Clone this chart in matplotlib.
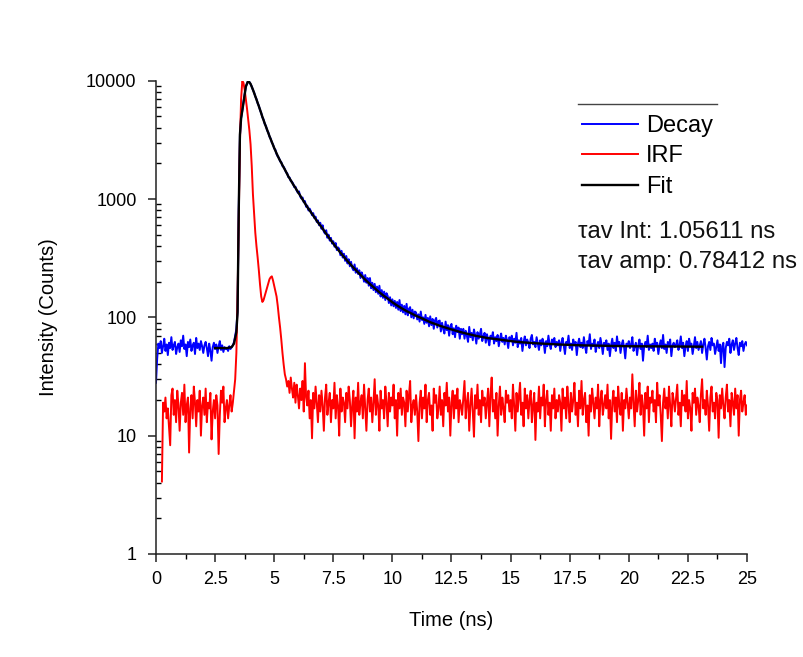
import numpy as np
import matplotlib
matplotlib.use("Agg")
import matplotlib.pyplot as plt
from matplotlib.lines import Line2D
from matplotlib.ticker import FixedLocator, NullFormatter

plt.rcParams["font.family"] = ["Liberation Sans", "DejaVu Sans"]

# Time-resolved photoluminescence: measured decay, instrument response and fit.
# Counts are listed one nanosecond per row (20 channels of 0.05 ns).
time_step_ns = 0.05

decay_counts = [
    28, 45, 60, 55, 63, 50, 57, 66, 52, 59, 48, 61, 55, 68, 53, 58, 62, 49, 56, 60,
    51, 64, 57, 70, 54, 59, 47, 62, 56, 65, 52, 58, 61, 49, 67, 55, 60, 53, 63, 57,
    50, 58, 62, 55, 47, 60, 52, 43, 56, 61, 54, 59, 50, 57, 63, 53, 58, 51, 56, 54,
    55, 52, 57, 54, 56, 58, 62, 70, 80, 115, 820, 3400, 4850, 5550, 6600, 7650, 8950, 9450, 10000, 9750,
    9350, 8950, 8350, 7950, 7350, 7000, 6450, 6150, 5650, 5350, 4900, 4700, 4300, 4150, 3800, 3660, 3370, 3240, 3000, 2890,
    2680, 2610, 2400, 2290, 2230, 2080, 2050, 1900, 1870, 1790, 1680, 1650, 1530, 1520, 1420, 1400, 1350, 1260, 1270, 1180,
    1130, 1160, 1050, 1010, 1030, 940, 960, 860, 880, 800, 830, 790, 730, 760, 690, 710, 640, 660, 600, 630,
    560, 600, 530, 510, 545, 470, 500, 445, 470, 420, 440, 395, 425, 370, 390, 380, 335, 365, 320, 345,
    300, 330, 285, 310, 270, 295, 262, 250, 280, 238, 260, 232, 250, 215, 240, 225, 200, 228, 196, 215,
    185, 215, 176, 196, 170, 192, 163, 182, 158, 185, 150, 170, 146, 165, 140, 160, 152, 132, 148, 126,
    142, 124, 138, 120, 135, 116, 140, 113, 128, 110, 125, 106, 130, 104, 118, 122, 100, 116, 98, 112,
    110, 96, 106, 92, 112, 95, 100, 88, 105, 90, 99, 84, 102, 86, 97, 80, 94, 99, 82, 93,
    94, 76, 90, 80, 73, 92, 78, 86, 70, 84, 88, 72, 81, 68, 85, 75, 82, 66, 80, 72,
    80, 66, 77, 70, 62, 83, 68, 74, 64, 79, 71, 60, 75, 66, 72, 80, 63, 69, 74, 61,
    72, 65, 58, 70, 66, 75, 60, 68, 63, 71, 57, 66, 73, 62, 67, 59, 70, 64, 55, 68,
    63, 70, 58, 66, 61, 74, 56, 64, 60, 67, 52, 62, 69, 58, 65, 61, 55, 66, 71, 59,
    62, 56, 68, 60, 53, 64, 58, 66, 61, 50, 63, 57, 70, 59, 54, 65, 60, 67, 56, 62,
    58, 64, 52, 61, 67, 57, 49, 62, 59, 70, 55, 60, 53, 65, 58, 62, 48, 60, 66, 56,
    61, 55, 68, 57, 50, 63, 59, 72, 54, 60, 57, 65, 51, 58, 62, 55, 67, 59, 49, 61,
    57, 64, 53, 60, 47, 58, 66, 55, 61, 52, 69, 57, 62, 50, 59, 64, 56, 45, 60, 58,
    63, 55, 59, 68, 52, 57, 61, 48, 58, 65, 54, 60, 43, 57, 62, 56, 70, 53, 59, 55,
    60, 52, 66, 57, 61, 49, 58, 64, 55, 71, 54, 59, 50, 62, 57, 65, 47, 58, 61, 56,
    59, 64, 53, 58, 69, 55, 61, 47, 57, 63, 52, 66, 58, 60, 49, 57, 68, 55, 62, 53,
    58, 63, 50, 59, 66, 55, 44, 57, 62, 53, 67, 58, 60, 49, 56, 64, 52, 59, 41, 57,
    61, 38, 55, 62, 58, 66, 50, 59, 64, 53, 60, 67, 55, 48, 61, 57, 63, 52, 59, 62,
    58,
]

nan = np.nan
irf_counts = [
    nan, nan, nan, nan, nan, 4.1, 19, 16, 21, 14, 17, 12, 8.3, 22, 25, 15, 20, 13, 24, 18,
    11, 19, 23, 15, 27, 13, 18, 21, 7.2, 17, 22, 14, 26, 19, 12, 20, 16, 24, 10, 18,
    21, 15, 25, 13, 19, 17, 23, 9.3, 16, 20, 14, 22, 18, 7.0, 15, 24, 19, 26, 13, 17,
    20, 14, 18, 22, 16, 19, 24, 30, 50, 150, 700, 3000, 7000, 9900, 9600, 8400, 7000, 5800, 4700, 3800,
    2900, 1900, 1100, 750, 520, 400, 320, 250, 190, 150, 135, 140, 152, 165, 180, 195, 210, 218, 222, 205,
    185, 168, 150, 125, 100, 82, 65, 50, 40, 33, 30, 26, 29, 23, 31, 25, 21, 28, 19, 27,
    22, 17, 25, 20, 29, 16, 41, 21, 18, 24, 14, 20, 9.5, 23, 17, 26, 19, 13, 22, 16,
    24, 18, 11, 21, 27, 15, 19, 23, 13, 20, 17, 28, 14, 22, 18, 10, 25, 16, 21, 19,
    13, 23, 17, 26, 20, 12, 18, 24, 9.5, 21, 16, 28, 15, 19, 22, 14, 27, 17, 11, 20,
    25, 16, 21, 13, 19, 30, 15, 22, 18, 11, 24, 17, 20, 14, 26, 19, 12, 23, 16, 21,
    18, 27, 14, 20, 10, 23, 17, 25, 15, 21, 19, 12, 24, 16, 22, 29, 13, 18, 20, 15,
    22, 16, 9.0, 19, 24, 14, 21, 17, 27, 13, 20, 23, 15, 18, 11, 25, 19, 22, 14, 17,
    26, 15, 20, 12, 23, 18, 28, 16, 21, 10, 19, 24, 14, 22, 17, 25, 13, 20, 18, 15,
    21, 29, 14, 19, 23, 11, 18, 25, 16, 9.8, 22, 17, 27, 15, 20, 13, 24, 18, 21, 14,
    19, 25, 12, 22, 31, 16, 20, 14, 23, 10, 18, 26, 15, 21, 17, 13, 24, 19, 22, 16,
    20, 14, 27, 18, 11, 23, 16, 21, 28, 15, 19, 12, 25, 17, 22, 14, 20, 24, 13, 18,
    23, 9.2, 19, 16, 26, 14, 21, 18, 27, 12, 20, 24, 15, 19, 11, 22, 17, 25, 14, 20,
    16, 22, 19, 11, 25, 17, 21, 14, 26, 18, 13, 23, 16, 20, 28, 15, 19, 12, 24, 17,
    29, 15, 20, 23, 13, 18, 10, 22, 16, 25, 19, 14, 21, 17, 27, 12, 20, 24, 15, 18,
    22, 17, 27, 14, 20, 9.4, 19, 24, 16, 21, 13, 26, 18, 15, 23, 11, 20, 17, 25, 19,
    14, 21, 17, 33, 19, 12, 24, 16, 20, 28, 15, 22, 18, 10, 23, 17, 26, 13, 21, 19,
    24, 16, 20, 13, 28, 18, 22, 15, 9.0, 19, 25, 17, 21, 14, 26, 18, 12, 23, 20, 16,
    21, 27, 15, 19, 12, 24, 18, 22, 16, 29, 14, 20, 17, 11, 23, 19, 25, 15, 21, 18,
    13, 22, 30, 17, 20, 15, 24, 18, 11, 21, 26, 16, 19, 14, 23, 20, 9.6, 22, 17, 25,
    18, 14, 21, 27, 16, 20, 12, 23, 19, 15, 25, 17, 22, 10, 20, 24, 16, 19, 22, 15,
    18,
]

fit_time = [
    2.5, 3.0, 3.2, 3.3, 3.4, 3.45, 3.5, 3.55, 3.6, 3.7, 3.8, 3.9,
    4.0, 4.1, 4.2, 4.3, 4.4, 4.5, 4.6, 4.7, 4.8, 4.9,
    5.0, 5.1, 5.2, 5.3, 5.4, 5.5, 5.6, 5.7, 5.8, 5.9,
    6.0, 6.1, 6.2, 6.3, 6.4, 6.5, 6.6, 6.7, 6.8, 6.9,
    7.0, 7.2, 7.4, 7.6, 7.8, 8.0, 8.2, 8.4, 8.6, 8.8,
    9.0, 9.2, 9.4, 9.6, 9.8, 10.0, 10.2, 10.4, 10.6, 10.8,
    11.0, 11.2, 11.4, 11.6, 11.8, 12.0, 12.5, 13.0, 13.5, 14.0,
    14.5, 15.0, 15.5, 16.0, 17.0, 18.0, 19.0, 20.0, 21.5, 23.1,
]
fit_counts = [
    55, 55, 56, 60, 75, 110, 800, 3500, 4800, 6500, 8900, 10000,
    9400, 8400, 7400, 6500, 5700, 4950, 4350, 3850, 3400, 3030,
    2700, 2430, 2200, 2020, 1850, 1700, 1550, 1440, 1330, 1240,
    1150, 1070, 990, 920, 855, 800, 750, 700, 655, 615,
    580, 508, 447, 396, 352, 315, 284, 257, 234, 213,
    195, 180, 166, 154, 144, 134, 126, 119, 113, 108,
    103, 99, 95, 91, 88, 85, 79, 74, 70, 67,
    65, 63, 61.5, 60.5, 59, 58, 57.5, 57, 56.8, 56.5,
]

x_tick_values = [0, 2.5, 5, 7.5, 10, 12.5, 15, 17.5, 20, 22.5, 25]
x_tick_labels = ["0", "2.5", "5", "7.5", "10", "12.5", "15", "17.5", "20", "22.5", "25"]
y_tick_values = [1, 10, 100, 1000, 10000]
y_tick_labels = ["1", "10", "100", "1000", "10000"]

assert len(decay_counts) == 501 and len(irf_counts) == 501
assert len(fit_time) == len(fit_counts)

decay_time = np.arange(len(decay_counts)) * time_step_ns
irf_time = np.arange(len(irf_counts)) * time_step_ns

fig = plt.figure(figsize=(8.04, 6.57), dpi=100)
ax = fig.add_axes([156 / 804, 1 - 554 / 657, 591 / 804, 473.3 / 657])

ax.plot(decay_time, decay_counts, color="#0000FF", lw=1.4, label="Decay", zorder=2)
ax.plot(irf_time, irf_counts, color="#FF0000", lw=1.4, label="IRF", zorder=3)
ax.plot(fit_time, fit_counts, color="black", lw=1.7, label="Fit", zorder=4)

ax.set_yscale("log")
ax.set_xlim(0, 25)
ax.set_ylim(1, 10000)

ax.spines["top"].set_visible(False)
ax.spines["right"].set_visible(False)
for side in ("left", "bottom"):
    ax.spines[side].set_linewidth(1.1)
    ax.spines[side].set_color("#222222")

ax.set_xticks(x_tick_values)
ax.set_xticklabels(x_tick_labels)
ax.xaxis.set_minor_locator(FixedLocator(np.array(x_tick_values[:-1]) + 1.25))
ax.set_yticks(y_tick_values)
ax.set_yticklabels(y_tick_labels)
y_minor = [m * d for d in (1, 10, 100, 1000) for m in range(2, 10)]
ax.yaxis.set_minor_locator(FixedLocator(y_minor))
ax.yaxis.set_minor_formatter(NullFormatter())

ax.tick_params(axis="both", which="major", labelsize=13, width=1.1, color="#222222")
ax.tick_params(axis="x", which="major", direction="out", length=6, pad=6)
ax.tick_params(axis="x", which="minor", direction="out", length=3.5, width=1.0)
ax.tick_params(axis="y", which="major", direction="out", length=6, pad=8)
ax.tick_params(axis="y", which="minor", direction="in", length=3.5, width=1.0)

ax.set_xlabel("Time (ns)", fontsize=14.5, labelpad=17)
ax.set_ylabel("Intensity (Counts)", fontsize=14.5, labelpad=20)

leg = ax.legend(
    loc="upper left",
    bbox_to_anchor=(582 / 804, 1 - 115 / 657),
    bbox_transform=fig.transFigure,
    frameon=False,
    fontsize=17,
    handlelength=2.37,
    handletextpad=0.34,
    labelspacing=0.36,
    borderpad=0,
    borderaxespad=0,
)

fig.add_artist(Line2D([578 / 804, 717 / 804], [1 - 104 / 657, 1 - 104 / 657],
                      transform=fig.transFigure, color="#444444", lw=1.0))

fig.text(578 / 804, 1 - 232 / 657, "\u03c4av Int: 1.05611 ns", fontsize=17.2,
         va="center", ha="left", color="#111111")
fig.text(578 / 804, 1 - 262 / 657, "\u03c4av amp: 0.78412 ns", fontsize=17.2,
         va="center", ha="left", color="#111111")

fig.savefig("out.png", dpi=100)
